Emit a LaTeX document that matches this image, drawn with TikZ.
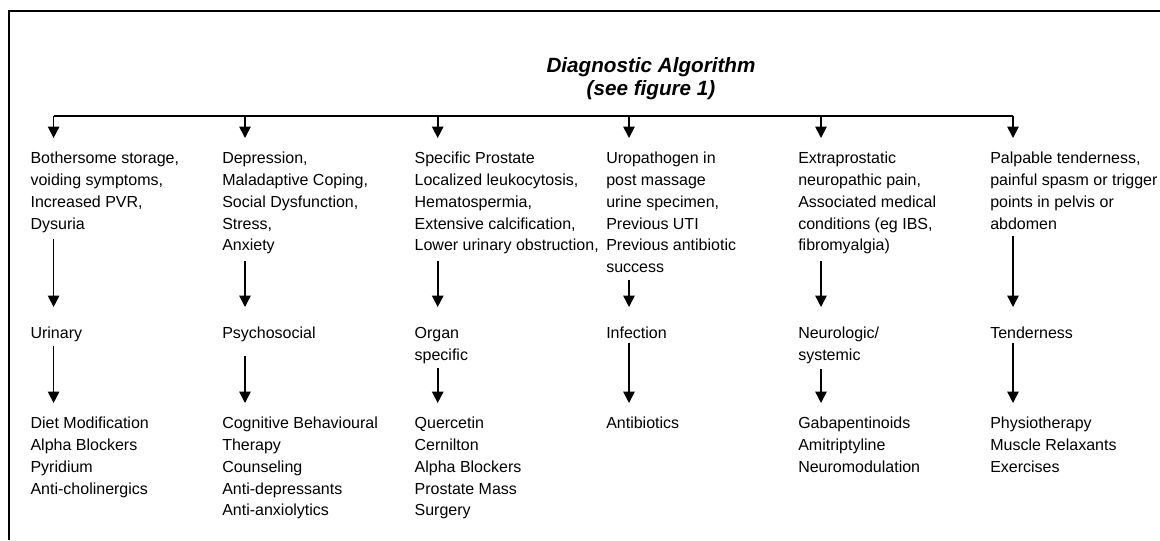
\documentclass[tikz,border=0pt]{standalone}
\usepackage{fontspec}
\setmainfont{Liberation Sans}
\usetikzlibrary{arrows.meta}
\begin{document}
\begin{tikzpicture}[x=0.75pt,y=-0.75pt,
        txt/.style={anchor=north west,inner sep=0pt,align=left,font=\fontsize{12}{16.3}\selectfont},
        arr/.style={-{Triangle[length=8.5pt,width=8.5pt]},line width=1.2pt}]
        \useasboundingbox (0,0) rectangle (1160,540);
        \draw[line width=1.3pt] (9,540) -- (9,11) -- (1160,11);
        \node[anchor=north,inner sep=0pt,align=center,font=\fontsize{15.5}{17.25}\selectfont\bfseries\itshape] (title) at (651,57) {Diagnostic Algorithm\\(see figure 1)};
        \foreach \i/\x in {1/53.6,2/245,3/437.7,4/629,5/821,6/1013} \coordinate (c\i) at (\x,116);
        % symptoms
        \node[txt] (s1) at (30.3,152) {Bothersome storage,\\voiding symptoms,\\Increased PVR,\\Dysuria};
        \node[txt] (s2) at (222,152) {Depression,\\Maladaptive Coping,\\Social Dysfunction,\\Stress,\\Anxiety};
        \node[txt] (s3) at (414.4,152) {Specific Prostate\\Localized leukocytosis,\\Hematospermia,\\Extensive calcification,\\Lower urinary obstruction,};
        \node[txt] (s4) at (606,152) {Uropathogen in\\post massage\\urine specimen,\\Previous UTI\\Previous antibiotic\\success};
        \node[txt] (s5) at (798,152) {Extraprostatic\\neuropathic pain,\\Associated medical\\conditions (eg IBS,\\fibromyalgia)};
        \node[txt] (s6) at (990,152) {Palpable tenderness,\\painful spasm or trigger\\points in pelvis or\\abdomen};
        % domains
        \node[txt] (k1) at (30.3,327) {Urinary};
        \node[txt] (k2) at (222,327) {Psychosocial};
        \node[txt] (k3) at (414.4,327) {Organ\\specific};
        \node[txt] (k4) at (606,327) {Infection};
        \node[txt] (k5) at (798,327) {Neurologic/\\systemic};
        \node[txt] (k6) at (990,327) {Tenderness};
        % treatments
        \node[txt] (t1) at (30.3,417) {Diet Modification\\Alpha Blockers\\Pyridium\\Anti-cholinergics};
        \node[txt] (t2) at (222,417) {Cognitive Behavioural\\Therapy\\Counseling\\Anti-depressants\\Anti-anxiolytics};
        \node[txt] (t3) at (414.4,417) {Quercetin\\Cernilton\\Alpha Blockers\\Prostate Mass\\Surgery};
        \node[txt] (t4) at (606,417) {Antibiotics};
        \node[txt] (t5) at (798,417) {Gabapentinoids\\Amitriptyline\\Neuromodulation};
        \node[txt] (t6) at (990,417) {Physiotherapy\\Muscle Relaxants\\Exercises};
        \draw[line width=1.2pt] (c1) -- (c6);
        \foreach \i/\g in {1/2.5,2/10,3/3.5,4/2.5,5/3.5,6/2.5}{
            \draw[arr,shorten >=10.5pt] (c\i) -- (s\i.north -| c\i);
            \draw[arr,shorten <=5pt,shorten >=15pt] (s\i.south -| c\i) -- (k\i.north -| c\i);
            \draw[arr,shorten <=\g pt,shorten >=10.5pt] (k\i.south -| c\i) -- (t\i.north -| c\i);
        }
    \end{tikzpicture}
\end{document}
